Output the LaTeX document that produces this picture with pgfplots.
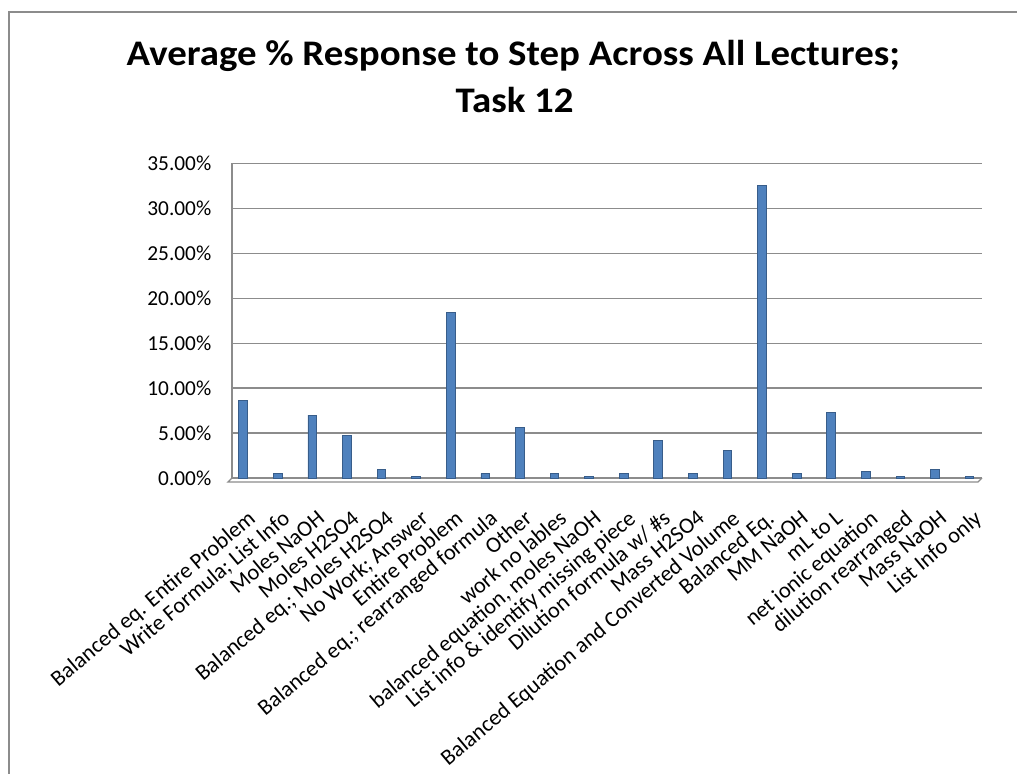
\documentclass[border=0pt]{standalone}
\usepackage{pgfplots}
\pgfplotsset{compat=1.18}
\usepackage{fontspec}
\setmainfont{Carlito}
\definecolor{barblue}{HTML}{4F81BD}
\definecolor{bardark}{HTML}{385D8A}
\definecolor{gridgray}{HTML}{8C8C8C}
\begin{document}
\begin{tikzpicture}
\useasboundingbox (0pt,0pt) rectangle (762.75pt,-580.5pt);
\draw[gridgray, line width=1.1pt] (6.75pt,-585pt) -- (6.75pt,-9pt) -- (770pt,-9pt);
\node[anchor=base, xscale=1.08, inner sep=0pt, font=\fontsize{27}{29}\selectfont\bfseries] at (385pt,-49.5pt)
  {Average \% Response to Step Across All Lectures;};
\node[anchor=base, xscale=1.08, inner sep=0pt, font=\fontsize{27}{29}\selectfont\bfseries] at (386pt,-84.75pt)
  {Task 12};
\begin{axis}[
  at={(174pt,-358.5pt)}, anchor=south west,
  scale only axis, width=562.5pt, height=235.9pt,
  xmin=-0.32, xmax=21.36, ymin=0, ymax=35,
  ytick={0,5,...,35},
  ymajorgrids, major grid style={gridgray, line width=1pt},
  axis line style={gridgray, line width=1pt},
  axis x line*=bottom, axis y line*=left,
  tick style={draw=none},
  /pgf/number format/assume math mode=true,
  yticklabel={\pgfmathprintnumber[fixed,fixed zerofill,precision=2]{\tick}\%},
  yticklabel style={font=\fontsize{16}{19}\selectfont, anchor=east, xshift=-12pt},
  xtick=data,
  xticklabels={Balanced eq. Entire Problem, Write Formula; List Info, Moles NaOH, Moles H2SO4, {Balanced eq.; Moles H2SO4}, No Work; Answer, Entire Problem, {Balanced eq.; rearranged formula}, Other, work no lables, {balanced equation, moles NaOH}, List info \& identify missing piece, Dilution formula w/ \#s, Mass H2SO4, Balanced Equation and Converted Volume, Balanced Eq., MM NaOH, mL to L, net ionic equation, dilution rearranged, Mass NaOH, List Info only},
  xticklabel style={font=\fontsize{16.8}{19}\selectfont, rotate=40, anchor=north east, inner sep=0pt, yshift=-16pt, xshift=-10pt},
  ybar, bar width=6.5pt, bar shift=0pt,
  clip=false,
]
\addplot[fill=barblue, draw=bardark, line width=0.6pt] coordinates {
(0,8.63) (1,0.48) (2,7.0) (3,4.78) (4,1.0) (5,0.2) (6,18.4) (7,0.48)
(8,5.63) (9,0.48) (10,0.2) (11,0.48) (12,4.15) (13,0.48) (14,3.1)
(15,32.6) (16,0.48) (17,7.3) (18,0.74) (19,0.2) (20,1.0) (21,0.2)};
\draw[gridgray, line width=1pt] (axis cs:-0.32,0) -- ++(-3pt,-3pt) -- ++(562.5pt,0pt) -- (axis cs:21.36,0);
\end{axis}
\end{tikzpicture}
\end{document}
